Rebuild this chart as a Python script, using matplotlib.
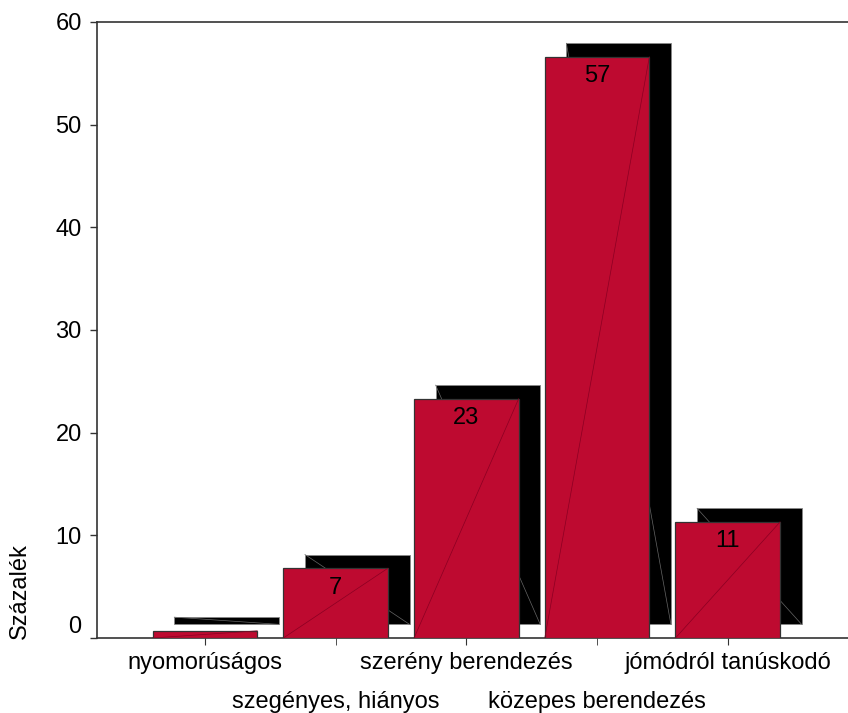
import numpy as np
import matplotlib
matplotlib.use('Agg')
import matplotlib.pyplot as plt

plt.rcParams['font.family'] = ['Liberation Sans', 'DejaVu Sans']

# adatok
kategoriak = ['nyomorúságos', 'szegényes, hiányos', 'szerény berendezés',
              'közepes berendezés', 'jómódról tanúskodó']
szazalek = [0.7, 6.8, 23.3, 56.6, 11.3]
feliratok = ['', '7', '23', '57', '11']

piros = '#BE0A30'
x = np.arange(len(kategoriak))
w = 0.80
dx, dy = 0.165, 1.33   # "arnyek" eltolasa

fig = plt.figure(figsize=(8.48, 7.13), dpi=100)
ax = fig.add_axes([97/848, 1-638/713, 1-97/848, (638-22)/713])

# fekete arnyek a hasab mogott
arnyek = ax.bar(x + dx, szazalek, width=w, bottom=dy, color='black',
                edgecolor='#888888', linewidth=0.6, zorder=2)
for p in arnyek:
  ax.plot([p.get_x(), p.get_x()+p.get_width()],
          [p.get_y()+p.get_height(), p.get_y()],
          color='#666666', lw=0.5, zorder=2.1)

hasab = ax.bar(x, szazalek, width=w, color=piros, edgecolor='#333333',
               linewidth=0.9, zorder=3)
for p in hasab:
  ax.plot([p.get_x(), p.get_x()+p.get_width()],
          [p.get_y(), p.get_y()+p.get_height()],
          color='#8A0022', lw=0.5, zorder=3.1)

for xi, v, f in zip(x, szazalek, feliratok):
  if f:
    ax.annotate(f, (xi, v), xytext=(0, -14), textcoords='offset points',
                ha='center', va='center', fontsize=17, zorder=4)

ax.set_ylim(0, 60)
ax.set_xlim(-0.826, 4.92)
ax.set_yticks(range(0, 61, 10))
ax.tick_params(axis='y', labelsize=17, length=5, width=1, pad=6, colors='#333333',
               labelcolor='black')

# ket sorban a kategoriak
ax.set_xticks(x[::2])
ax.set_xticklabels(kategoriak[::2])
ax.set_xticks(x[1::2], minor=True)
ax.set_xticklabels(kategoriak[1::2], minor=True)
ax.tick_params(axis='x', which='major', labelsize=17, length=5, pad=5,
               colors='#333333', labelcolor='black')
ax.tick_params(axis='x', which='minor', labelsize=17, length=5, pad=33,
               colors='#333333', labelcolor='black')
ax.get_yticklabels()[0].set_va('bottom')

ax.spines['right'].set_visible(False)
for s in ['left', 'top', 'bottom']:
  ax.spines[s].set_color('#333333')
  ax.spines[s].set_linewidth(1.2)

fig.text(20/848, 1-591/713, 'Százalék', rotation=90, ha='center', va='center',
         fontsize=17)

fig.savefig('out.png', dpi=100)
